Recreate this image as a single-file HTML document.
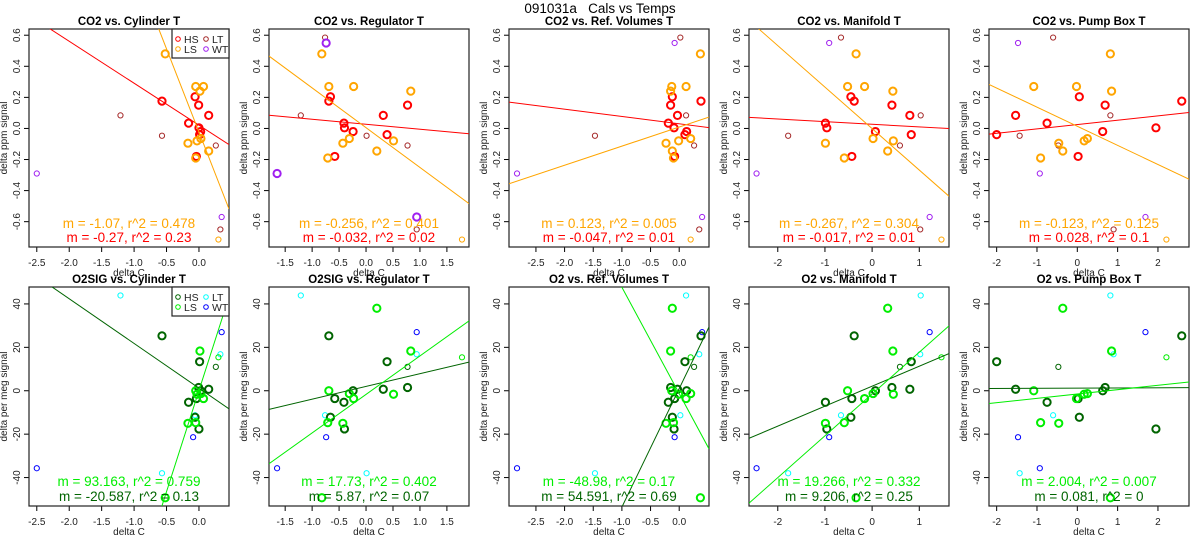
<!DOCTYPE html>
<html><head><meta charset="utf-8"><style>
html,body{margin:0;padding:0;background:#fff;width:1200px;height:550px;overflow:hidden;}
svg{display:block;font-family:"Liberation Sans",Arial,sans-serif;}
</style></head><body>
<svg id="chart" width="1200" height="550" viewBox="0 0 1200 550" xmlns="http://www.w3.org/2000/svg">
<text x="600" y="13" text-anchor="middle" font-size="13.5" style="white-space:pre" xml:space="preserve">091031a   Cals vs Temps</text>
</svg>
<script>
const panelTitlesTop = ["CO2 vs. Cylinder T","CO2 vs. Regulator T","CO2 vs. Ref. Volumes T","CO2 vs. Manifold T","CO2 vs. Pump Box T"];
const panelTitlesBot = ["O2SIG vs. Cylinder T","O2SIG vs. Regulator T","O2 vs. Ref. Volumes T","O2 vs. Manifold T","O2 vs. Pump Box T"];
const xRanges = [[-2.62,0.463],[-1.80,1.91],[-2.97,0.52],[-2.61,1.63],[-2.19,2.77]];
const xTicks = [[-2.5,-2,-1.5,-1,-0.5,0],[-1.5,-1,-0.5,0,0.5,1,1.5],[-2.5,-2,-1.5,-1,-0.5,0],[-2,-1,0,1],[-2,-1,0,1,2]];
const xTickLabels = [["-2.5","-2.0","-1.5","-1.0","-0.5","0.0"],["-1.5","-1.0","-0.5","0.0","0.5","1.0","1.5"],["-2.5","-2.0","-1.5","-1.0","-0.5","0.0"],["-2","-1","0","1"],["-2","-1","0","1","2"]];
const yRangeTop = [-0.763,0.64];
const yRangeBot = [-53.1,47.8];
const yTicksTop = [-0.6,-0.4,-0.2,0,0.2,0.4,0.6];
const yTickLabelsTop = ["-0.6","-0.4","-0.2","0.0","0.2","0.4","0.6"];
const yTicksBot = [-40,-20,0,20,40];
const yTickLabelsBot = ["-40","-20","0","20","40"];
const hsX = [[-0.57,-0.16,-0.06,-0.005,0.15,0,0.026,0.01,-0.04],[-0.69,-0.41,-0.66,0.77,0.32,-0.40,-0.24,0.39,-0.58],[0.38,-0.19,-0.12,-0.15,-0.03,-0.09,0.13,0.10,-0.08],[-0.38,-0.99,-0.45,0.42,0.80,-0.96,0.07,0.83,-0.43],[2.59,-0.75,0.05,0.69,-1.53,1.95,0.63,-2.0,0.02]];
const lsX = [[-0.52,-0.05,0.015,0.07,-0.17,-0.03,0.03,0.15,-0.05],[-0.82,-0.69,0.83,-0.23,-0.43,0.51,-0.31,0.2,-0.71],[0.37,-0.13,-0.15,0.12,-0.23,-0.01,0.2,-0.12,-0.10],[-0.34,-0.52,0.44,-0.16,-0.99,0.45,0.02,0.33,-0.59],[0.82,-1.08,0.85,-0.02,-0.46,0.17,0.25,-0.36,-0.91]];
const ltX = [[-0.06,-1.21,-0.57,0.26,0.33],[-0.76,-1.21,0.01,0.77,0.94],[0.02,0.12,-1.47,0.26,0.35],[-0.66,1.03,-1.78,0.59,1.02],[-0.60,0.82,-1.43,-0.47,0.9]];
const lsThinX = [0.30,1.78,0.2,1.47,2.21];
const wtX = [[-0.09,-2.5,0.35],[-0.74,-1.65,0.94],[-0.08,-2.83,0.4],[-0.91,-2.45,1.22],[-1.47,-0.93,1.69]];
const hsCO2 = [0.176,0.034,0.204,0.15,0.084,0.004,-0.02,-0.04,-0.18];
const lsCO2 = [0.48,0.27,0.24,0.27,-0.095,-0.08,-0.065,-0.145,-0.19];
const ltCO2 = [0.585,0.084,-0.047,-0.11,-0.65];
const lsThinCO2 = [-0.715];
const wtCO2 = [0.55,-0.29,-0.57];
const hsO2 = [25.3,-5.3,-12.2,1.5,0.7,-17.6,0,13.4,-3.6];
const lsO2 = [-49.3,0,18.3,-3.6,-15,-1.6,-1.3,38,-14.7];
const ltO2 = [-11.3,43.9,-38,11,16.8];
const ltO2Color = ["#00ffff","#00ffff","#00ffff","#006400","#00ffff"];
const lsThinO2 = [15.4];
const wtO2 = [-21.4,-35.7,27];
const fitTopLS = [[-1.07,-0.023],[-0.256,0.005],[0.123,0.009],[-0.267,-0.001],[-0.123,0.014]];
const fitTopHS = [[-0.27,0.021],[-0.032,0.027],[-0.047,0.030],[-0.017,0.027],[0.028,0.025]];
const fitBotLS = [[93.163,0.1],[17.73,-1.7],[-48.98,-1.3],[19.266,-1.5],[2.004,-1.5]];
const fitBotHS = [[-20.587,1.2],[5.87,2.0],[54.591,1.0],[9.206,2.1],[0.081,1.2]];
const textTop1 = ["m = -1.07, r^2 = 0.478","m = -0.256, r^2 = 0.401","m = 0.123, r^2 = 0.005","m = -0.267, r^2 = 0.304","m = -0.123, r^2 = 0.125"];
const textTop2 = ["m = -0.27, r^2 = 0.23","m = -0.032, r^2 = 0.02","m = -0.047, r^2 = 0.01","m = -0.017, r^2 = 0.01","m = 0.028, r^2 = 0.1"];
const textBot1 = ["m = 93.163, r^2 = 0.759","m = 17.73, r^2 = 0.402","m = -48.98, r^2 = 0.17","m = 19.266, r^2 = 0.332","m = 2.004, r^2 = 0.007"];
const textBot2 = ["m = -20.587, r^2 = 0.13","m = 5.87, r^2 = 0.07","m = 54.591, r^2 = 0.69","m = 9.206, r^2 = 0.25","m = 0.081, r^2 = 0"];

const NS = "http://www.w3.org/2000/svg";
const svg = document.getElementById('chart');
function mk(tag, attrs, parent){const e=document.createElementNS(NS,tag);for(const k in attrs)e.setAttribute(k,attrs[k]);(parent||svg).appendChild(e);return e;}

function drawPanel(col,row){
  const L=29+240*col, R=L+200;
  const T=row===0?29:287, B=row===0?247:506;
  const xr=xRanges[col], yr=row===0?yRangeTop:yRangeBot;
  const sx=v=>L+(v-xr[0])/(xr[1]-xr[0])*(R-L);
  const sy=v=>B-(v-yr[0])/(yr[1]-yr[0])*(B-T);
  const g=mk('g',{});
  
  
  const cid='clip'+row+col;
  const cp=mk('clipPath',{id:cid},g); mk('rect',{x:L,y:T,width:R-L,height:B-T},cp);
  const title=mk('text',{x:(L+R)/2,y:row===0?25:283,'text-anchor':'middle','font-size':11.5,'font-weight':'bold'},g);
  title.textContent=row===0?panelTitlesTop[col]:panelTitlesBot[col];
  
  
  const tyx=row===0?266:525;
  xTicks[col].forEach((t,i)=>{
    mk('line',{x1:sx(t),x2:sx(t),y1:B,y2:B+5,stroke:'#000','stroke-width':1},g);
    const tx=mk('text',{x:sx(t),y:tyx,'text-anchor':'middle','font-size':10,fill:'#222'},g);
    tx.textContent=xTickLabels[col][i];
    
    
  });
  mk('line',{x1:sx(xTicks[col][0]),x2:sx(xTicks[col][xTicks[col].length-1]),y1:B,y2:B,stroke:'#000'},g);
  const xl=mk('text',{x:(L+R)/2,y:row===0?276:535,'text-anchor':'middle','font-size':10,fill:'#222'},g);
  xl.textContent='delta C';
  
  
  const yt=row===0?yTicksTop:yTicksBot, ytl=row===0?yTickLabelsTop:yTickLabelsBot;
  yt.forEach((t,i)=>{
    mk('line',{x1:L-5,x2:L,y1:sy(t),y2:sy(t),stroke:'#000'},g);
    const tx=mk('text',{x:L-9,y:sy(t),'text-anchor':'middle','font-size':10,fill:'#222',transform:`rotate(-90 ${L-9} ${sy(t)})`},g);
    tx.textContent=ytl[i];
    
    
  });
  mk('line',{x1:L,x2:L,y1:sy(yt[0]),y2:sy(yt[yt.length-1]),stroke:'#000'},g);
  const cy=(T+B)/2;
  const yl=mk('text',{x:L-22,y:cy,'text-anchor':'middle','font-size':10,fill:'#222',transform:`rotate(-90 ${L-22} ${cy})`},g);
  yl.textContent=row===0?'delta ppm signal':'delta per meg signal';
  
  
  mk('rect',{x:L,y:T,width:R-L,height:B-T,fill:'none',stroke:'#222','stroke-width':1.2},g);
  const pg=mk('g',{'clip-path':`url(#${cid})`},g);
  function pt(x,y,color,thick,name){
    const c=mk('circle',{cx:sx(x),cy:sy(y),r:thick?3.6:2.6,fill:'none',stroke:color,'stroke-width':thick?2:1},pg);
    
    
  }
  if(row===0){
    ltX[col].forEach((x,i)=>pt(x,ltCO2[i],'#a52a2a',false,'lt-point'));
    pt(lsThinX[col],lsThinCO2[0],'#ffa500',false,'ls-point');
    wtX[col].forEach((x,i)=>pt(x,wtCO2[i],'#a020f0',col===1,'wt-point'));
    hsX[col].forEach((x,i)=>pt(x,hsCO2[i],'#ff0000',true,'hs-point'));
    lsX[col].forEach((x,i)=>pt(x,lsCO2[i],'#ffa500',true,'ls-point'));
  } else {
    ltX[col].forEach((x,i)=>pt(x,ltO2[i],ltO2Color[i],false,'lt-point'));
    pt(lsThinX[col],lsThinO2[0],'#00ee00',false,'ls-point');
    wtX[col].forEach((x,i)=>pt(x,wtO2[i],'#0000ff',false,'wt-point'));
    hsX[col].forEach((x,i)=>pt(x,hsO2[i],'#006400',true,'hs-point'));
    lsX[col].forEach((x,i)=>pt(x,lsO2[i],'#00ee00',true,'ls-point'));
  }
  function fit(f,color,name){
    const l=mk('line',{x1:sx(xr[0]),y1:sy(f[0]*xr[0]+f[1]),x2:sx(xr[1]),y2:sy(f[0]*xr[1]+f[1]),stroke:color,'stroke-width':1},pg);
    
    
  }
  if(row===0){fit(fitTopHS[col],'#ff0000','hs-fit-line');fit(fitTopLS[col],'#ffa500','ls-fit-line');}
  else{fit(fitBotHS[col],'#006400','hs-fit-line');fit(fitBotLS[col],'#00ee00','ls-fit-line');}
  const t1=mk('text',{x:(L+R)/2,y:row===0?228:486,'text-anchor':'middle','font-size':13.5,fill:row===0?'#ffa500':'#00ee00'},g);
  t1.textContent=row===0?textTop1[col]:textBot1[col];
  
  
  const t2=mk('text',{x:(L+R)/2,y:row===0?242:501,'text-anchor':'middle','font-size':13.5,fill:row===0?'#ff0000':'#006400'},g);
  t2.textContent=row===0?textTop2[col]:textBot2[col];
  
  
  if(col===0){
    const lg=mk('g',{},g);
    
    
    mk('rect',{x:172,y:T,width:57,height:29,fill:'#fff',stroke:'#222','stroke-width':1.2},lg);
    const cols=row===0?['#ff0000','#ffa500','#a52a2a','#a020f0']:['#006400','#00ee00','#00ffff','#0000ff'];
    const labs=['HS','LS','LT','WT'];
    const pos=[[178,T+10],[178,T+20],[206,T+10],[206,T+20]];
    labs.forEach((lab,i)=>{
      const c=mk('circle',{cx:pos[i][0],cy:pos[i][1],r:2.3,fill:'none',stroke:cols[i],'stroke-width':1},lg);
      
      
      const tx=mk('text',{x:pos[i][0]+6,y:pos[i][1]+4,'font-size':10.5,fill:'#222'},lg);
      tx.textContent=lab;
      
      
    });
  }
}
for(let r=0;r<2;r++)for(let c=0;c<5;c++)drawPanel(c,r);
</script>
</body></html>
